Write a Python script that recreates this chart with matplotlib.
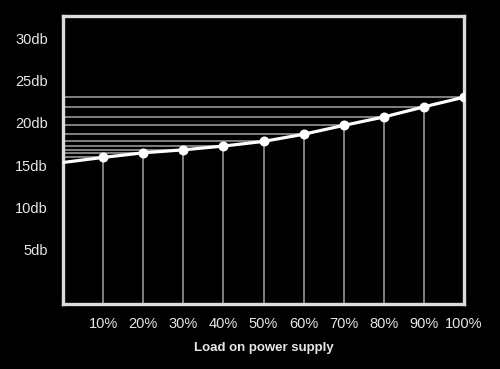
import matplotlib
matplotlib.use('Agg')
import matplotlib.pyplot as plt

# load in percent, noise level in db
load = [0, 10, 20, 30, 40, 50, 60, 70, 80, 90, 100]
noise = [15.3, 15.9, 16.45, 16.8, 17.25, 17.8, 18.65, 19.7, 20.7, 21.9, 23.05]
xtick_vals = [10, 20, 30, 40, 50, 60, 70, 80, 90, 100]
xtick_labels = ['10%', '20%', '30%', '40%', '50%', '60%', '70%', '80%', '90%', '100%']
ytick_vals = [5, 10, 15, 20, 25, 30]
ytick_labels = ['5db', '10db', '15db', '20db', '25db', '30db']

plt.rcParams['font.family'] = ['Liberation Sans', 'DejaVu Sans']

fig = plt.figure(figsize=(5, 3.69), dpi=100, facecolor='black')
ax = fig.add_axes([0.126, 0.176, 0.802, 0.781], facecolor='black')

ax.set_xlim(0, 100)
ax.set_ylim(-1.5, 32.7)

# guide lines from each point to the axes
for x, y in zip(load[1:], noise[1:]):
  ax.plot([0, x], [y, y], color='#8a8a8a', lw=1.3, zorder=1, solid_capstyle='butt')
  ax.plot([x, x], [-1.5, y], color='#8a8a8a', lw=1.3, zorder=1, solid_capstyle='butt')

ax.plot(load, noise, color='white', lw=2.3, zorder=3)
ax.plot(load[1:], noise[1:], 'o', color='white', ms=6.2, zorder=4)

for s in ax.spines.values():
  s.set_color('#dcdcdc')
  s.set_linewidth(2.4)

ax.set_xticks(xtick_vals)
ax.set_xticklabels(xtick_labels)
ax.set_yticks(ytick_vals)
ax.set_yticklabels(ytick_labels)
ax.tick_params(length=0, colors='#e6e6e6', labelsize=10.5)
ax.tick_params(axis='y', pad=11)
ax.tick_params(axis='x', pad=9)

ax.set_xlabel('Load on power supply', color='#e6e6e6', fontsize=9.5, fontweight='bold', labelpad=8)

fig.savefig('out.png', dpi=100, facecolor='black')
